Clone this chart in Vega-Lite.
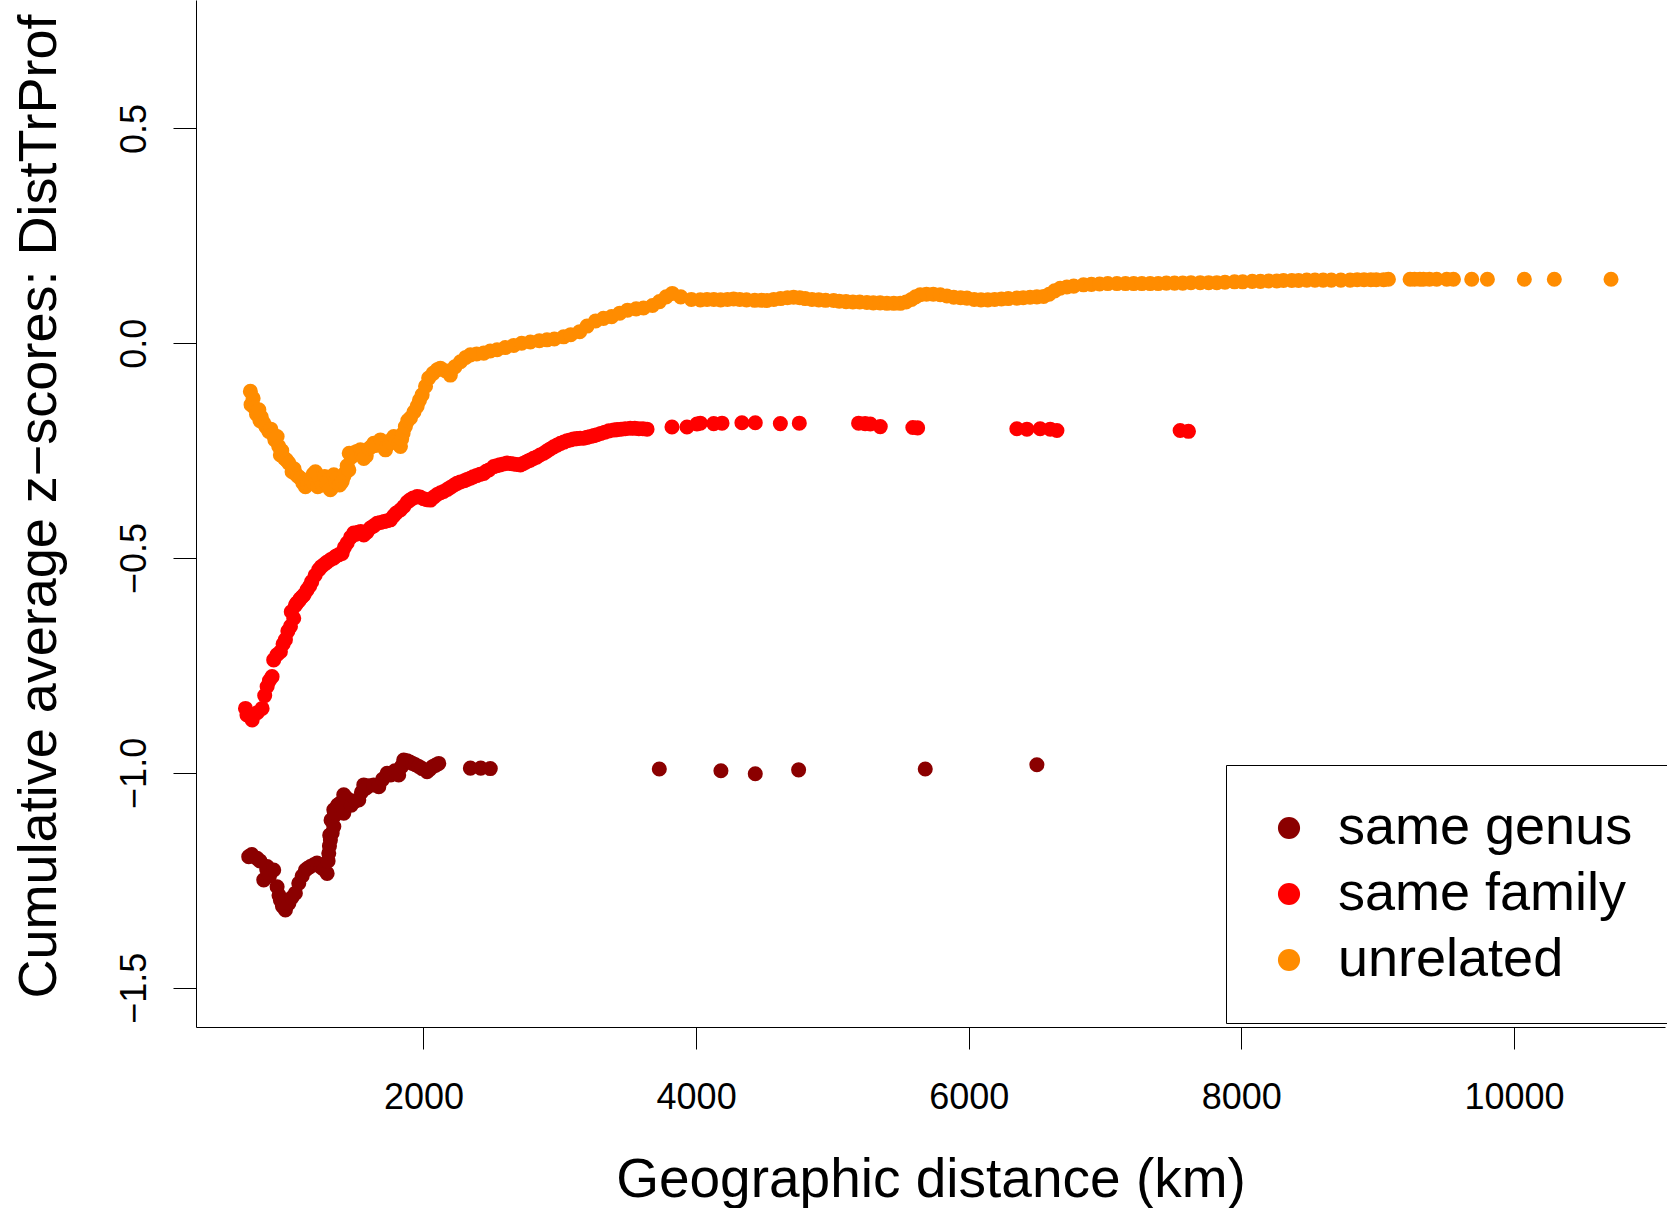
{
  "$schema": "https://vega.github.io/schema/vega-lite/v6.json",
  "width": 1469,
  "height": 1027,
  "autosize": {"type": "none"},
  "padding": {"left": 196, "top": 0, "right": 2, "bottom": 181},
  "background": "white",
  "config": {
    "view": {"stroke": null},
    "axis": {"grid": false, "domainColor": "black", "tickColor": "black", "labelColor": "black", "titleColor": "black", "domainWidth": 1, "tickWidth": 1, "labelFont": "Liberation Sans", "titleFont": "Liberation Sans", "titleFontWeight": "normal"}
  },
  "datasets": {
    "pts": [
      {"group":"unrelated","distance":730,"z":-0.112},{"group":"unrelated","distance":735,"z":-0.143},{"group":"unrelated","distance":750,"z":-0.128},{"group":"unrelated","distance":760,"z":-0.150},{"group":"unrelated","distance":775,"z":-0.165},{"group":"unrelated","distance":792,"z":-0.155},{"group":"unrelated","distance":800,"z":-0.180},{"group":"unrelated","distance":810,"z":-0.172},{"group":"unrelated","distance":828,"z":-0.186},{"group":"unrelated","distance":845,"z":-0.195},{"group":"unrelated","distance":865,"z":-0.205},{"group":"unrelated","distance":880,"z":-0.200},{"group":"unrelated","distance":895,"z":-0.212},{"group":"unrelated","distance":910,"z":-0.225},{"group":"unrelated","distance":926,"z":-0.217},{"group":"unrelated","distance":938,"z":-0.240},{"group":"unrelated","distance":950,"z":-0.260},{"group":"unrelated","distance":960,"z":-0.250},{"group":"unrelated","distance":980,"z":-0.268},{"group":"unrelated","distance":995,"z":-0.272},{"group":"unrelated","distance":1012,"z":-0.279},{"group":"unrelated","distance":1036,"z":-0.299},{"group":"unrelated","distance":1050,"z":-0.292},{"group":"unrelated","distance":1065,"z":-0.305},{"group":"unrelated","distance":1080,"z":-0.310},{"group":"unrelated","distance":1097,"z":-0.314},{"group":"unrelated","distance":1115,"z":-0.325},{"group":"unrelated","distance":1134,"z":-0.334},{"group":"unrelated","distance":1150,"z":-0.325},{"group":"unrelated","distance":1165,"z":-0.320},{"group":"unrelated","distance":1180,"z":-0.318},{"group":"unrelated","distance":1190,"z":-0.305},{"group":"unrelated","distance":1207,"z":-0.299},{"group":"unrelated","distance":1224,"z":-0.334},{"group":"unrelated","distance":1240,"z":-0.315},{"group":"unrelated","distance":1260,"z":-0.330},{"group":"unrelated","distance":1275,"z":-0.310},{"group":"unrelated","distance":1290,"z":-0.325},{"group":"unrelated","distance":1300,"z":-0.320},{"group":"unrelated","distance":1317,"z":-0.341},{"group":"unrelated","distance":1330,"z":-0.335},{"group":"unrelated","distance":1342,"z":-0.306},{"group":"unrelated","distance":1355,"z":-0.322},{"group":"unrelated","distance":1370,"z":-0.315},{"group":"unrelated","distance":1385,"z":-0.330},{"group":"unrelated","distance":1403,"z":-0.322},{"group":"unrelated","distance":1415,"z":-0.310},{"group":"unrelated","distance":1430,"z":-0.300},{"group":"unrelated","distance":1440,"z":-0.285},{"group":"unrelated","distance":1452,"z":-0.295},{"group":"unrelated","distance":1455,"z":-0.256},{"group":"unrelated","distance":1470,"z":-0.265},{"group":"unrelated","distance":1490,"z":-0.255},{"group":"unrelated","distance":1510,"z":-0.252},{"group":"unrelated","distance":1537,"z":-0.248},{"group":"unrelated","distance":1550,"z":-0.258},{"group":"unrelated","distance":1562,"z":-0.268},{"group":"unrelated","distance":1580,"z":-0.262},{"group":"unrelated","distance":1600,"z":-0.245},{"group":"unrelated","distance":1620,"z":-0.240},{"group":"unrelated","distance":1635,"z":-0.233},{"group":"unrelated","distance":1650,"z":-0.238},{"group":"unrelated","distance":1684,"z":-0.225},{"group":"unrelated","distance":1700,"z":-0.235},{"group":"unrelated","distance":1721,"z":-0.248},{"group":"unrelated","distance":1735,"z":-0.238},{"group":"unrelated","distance":1750,"z":-0.230},{"group":"unrelated","distance":1765,"z":-0.225},{"group":"unrelated","distance":1782,"z":-0.217},{"group":"unrelated","distance":1800,"z":-0.228},{"group":"unrelated","distance":1815,"z":-0.235},{"group":"unrelated","distance":1831,"z":-0.240},{"group":"unrelated","distance":1840,"z":-0.222},{"group":"unrelated","distance":1850,"z":-0.210},{"group":"unrelated","distance":1867,"z":-0.194},{"group":"unrelated","distance":1885,"z":-0.180},{"group":"unrelated","distance":1904,"z":-0.174},{"group":"unrelated","distance":1930,"z":-0.160},{"group":"unrelated","distance":1953,"z":-0.147},{"group":"unrelated","distance":1970,"z":-0.133},{"group":"unrelated","distance":1990,"z":-0.120},{"group":"unrelated","distance":2015,"z":-0.100},{"group":"unrelated","distance":2038,"z":-0.081},{"group":"unrelated","distance":2070,"z":-0.070},{"group":"unrelated","distance":2100,"z":-0.062},{"group":"unrelated","distance":2124,"z":-0.058},{"group":"unrelated","distance":2160,"z":-0.064},{"group":"unrelated","distance":2197,"z":-0.074},{"group":"unrelated","distance":2230,"z":-0.055},{"group":"unrelated","distance":2271,"z":-0.043},{"group":"unrelated","distance":2310,"z":-0.033},{"group":"unrelated","distance":2344,"z":-0.027},{"group":"unrelated","distance":2390,"z":-0.025},{"group":"unrelated","distance":2442,"z":-0.023},{"group":"unrelated","distance":2490,"z":-0.018},{"group":"unrelated","distance":2540,"z":-0.015},{"group":"unrelated","distance":2600,"z":-0.010},{"group":"unrelated","distance":2662,"z":-0.005},{"group":"unrelated","distance":2720,"z":0.000},{"group":"unrelated","distance":2784,"z":0.003},{"group":"unrelated","distance":2850,"z":0.006},{"group":"unrelated","distance":2906,"z":0.008},{"group":"unrelated","distance":2960,"z":0.010},{"group":"unrelated","distance":3028,"z":0.015},{"group":"unrelated","distance":3080,"z":0.020},{"group":"unrelated","distance":3146,"z":0.027},{"group":"unrelated","distance":3200,"z":0.040},{"group":"unrelated","distance":3263,"z":0.052},{"group":"unrelated","distance":3320,"z":0.058},{"group":"unrelated","distance":3380,"z":0.062},{"group":"unrelated","distance":3440,"z":0.070},{"group":"unrelated","distance":3497,"z":0.077},{"group":"unrelated","distance":3560,"z":0.080},{"group":"unrelated","distance":3614,"z":0.082},{"group":"unrelated","distance":3680,"z":0.088},{"group":"unrelated","distance":3731,"z":0.097},{"group":"unrelated","distance":3780,"z":0.108},{"group":"unrelated","distance":3825,"z":0.116},{"group":"unrelated","distance":3887,"z":0.108},{"group":"unrelated","distance":3965,"z":0.102},
      {"group":"unrelated","distance":4031,"z":0.101},{"group":"unrelated","distance":4080,"z":0.102},{"group":"unrelated","distance":4130,"z":0.102},{"group":"unrelated","distance":4180,"z":0.101},{"group":"unrelated","distance":4230,"z":0.102},{"group":"unrelated","distance":4275,"z":0.103},{"group":"unrelated","distance":4320,"z":0.102},{"group":"unrelated","distance":4370,"z":0.101},{"group":"unrelated","distance":4430,"z":0.100},{"group":"unrelated","distance":4480,"z":0.100},{"group":"unrelated","distance":4520,"z":0.0995},{"group":"unrelated","distance":4570,"z":0.102},{"group":"unrelated","distance":4620,"z":0.104},{"group":"unrelated","distance":4670,"z":0.106},{"group":"unrelated","distance":4715,"z":0.107},{"group":"unrelated","distance":4760,"z":0.106},{"group":"unrelated","distance":4800,"z":0.104},{"group":"unrelated","distance":4850,"z":0.102},{"group":"unrelated","distance":4900,"z":0.101},{"group":"unrelated","distance":4950,"z":0.100},{"group":"unrelated","distance":5009,"z":0.0995},{"group":"unrelated","distance":5050,"z":0.098},{"group":"unrelated","distance":5100,"z":0.097},{"group":"unrelated","distance":5150,"z":0.096},{"group":"unrelated","distance":5200,"z":0.096},{"group":"unrelated","distance":5253,"z":0.095},{"group":"unrelated","distance":5300,"z":0.094},{"group":"unrelated","distance":5350,"z":0.094},{"group":"unrelated","distance":5400,"z":0.093},{"group":"unrelated","distance":5450,"z":0.093},{"group":"unrelated","distance":5498,"z":0.093},{"group":"unrelated","distance":5540,"z":0.096},{"group":"unrelated","distance":5580,"z":0.102},{"group":"unrelated","distance":5610,"z":0.108},{"group":"unrelated","distance":5644,"z":0.113},{"group":"unrelated","distance":5690,"z":0.114},{"group":"unrelated","distance":5740,"z":0.114},{"group":"unrelated","distance":5791,"z":0.113},{"group":"unrelated","distance":5840,"z":0.110},{"group":"unrelated","distance":5890,"z":0.107},{"group":"unrelated","distance":5940,"z":0.106},{"group":"unrelated","distance":5987,"z":0.105},{"group":"unrelated","distance":6040,"z":0.102},{"group":"unrelated","distance":6090,"z":0.101},{"group":"unrelated","distance":6140,"z":0.101},{"group":"unrelated","distance":6190,"z":0.102},{"group":"unrelated","distance":6240,"z":0.103},{"group":"unrelated","distance":6290,"z":0.104},{"group":"unrelated","distance":6353,"z":0.105},{"group":"unrelated","distance":6400,"z":0.106},{"group":"unrelated","distance":6450,"z":0.107},{"group":"unrelated","distance":6500,"z":0.108},{"group":"unrelated","distance":6549,"z":0.109},{"group":"unrelated","distance":6590,"z":0.114},{"group":"unrelated","distance":6630,"z":0.122},{"group":"unrelated","distance":6671,"z":0.128},{"group":"unrelated","distance":6720,"z":0.131},{"group":"unrelated","distance":6770,"z":0.133},{"group":"unrelated","distance":6842,"z":0.136},{"group":"unrelated","distance":6900,"z":0.137},{"group":"unrelated","distance":6960,"z":0.138},{"group":"unrelated","distance":7020,"z":0.139},{"group":"unrelated","distance":7087,"z":0.139},{"group":"unrelated","distance":7150,"z":0.139},{"group":"unrelated","distance":7210,"z":0.139},{"group":"unrelated","distance":7270,"z":0.139},{"group":"unrelated","distance":7331,"z":0.139},{"group":"unrelated","distance":7390,"z":0.139},{"group":"unrelated","distance":7450,"z":0.140},{"group":"unrelated","distance":7510,"z":0.140},{"group":"unrelated","distance":7570,"z":0.140},{"group":"unrelated","distance":7630,"z":0.141},{"group":"unrelated","distance":7698,"z":0.141},{"group":"unrelated","distance":7760,"z":0.141},{"group":"unrelated","distance":7820,"z":0.141},{"group":"unrelated","distance":7880,"z":0.142},{"group":"unrelated","distance":7950,"z":0.143},{"group":"unrelated","distance":8010,"z":0.143},{"group":"unrelated","distance":8080,"z":0.144},{"group":"unrelated","distance":8140,"z":0.144},{"group":"unrelated","distance":8200,"z":0.145},{"group":"unrelated","distance":8260,"z":0.145},{"group":"unrelated","distance":8309,"z":0.146},{"group":"unrelated","distance":8370,"z":0.146},{"group":"unrelated","distance":8420,"z":0.146},{"group":"unrelated","distance":8480,"z":0.147},{"group":"unrelated","distance":8540,"z":0.147},{"group":"unrelated","distance":8600,"z":0.147},{"group":"unrelated","distance":8660,"z":0.147},{"group":"unrelated","distance":8730,"z":0.147},{"group":"unrelated","distance":8798,"z":0.147},{"group":"unrelated","distance":8850,"z":0.148},{"group":"unrelated","distance":8900,"z":0.148},{"group":"unrelated","distance":8950,"z":0.148},{"group":"unrelated","distance":8990,"z":0.148},{"group":"unrelated","distance":9044,"z":0.148},{"group":"unrelated","distance":9079,"z":0.149},{"group":"unrelated","distance":9238,"z":0.149},{"group":"unrelated","distance":9270,"z":0.149},{"group":"unrelated","distance":9310,"z":0.149},{"group":"unrelated","distance":9336,"z":0.149},{"group":"unrelated","distance":9380,"z":0.149},{"group":"unrelated","distance":9433,"z":0.149},{"group":"unrelated","distance":9507,"z":0.149},{"group":"unrelated","distance":9556,"z":0.149},{"group":"unrelated","distance":9690,"z":0.149},{"group":"unrelated","distance":9805,"z":0.149},{"group":"unrelated","distance":10076,"z":0.149},{"group":"unrelated","distance":10296,"z":0.149},{"group":"unrelated","distance":10712,"z":0.149},
      {"group":"same family","distance":694,"z":-0.850},{"group":"same family","distance":705,"z":-0.865},{"group":"same family","distance":743,"z":-0.877},{"group":"same family","distance":780,"z":-0.860},{"group":"same family","distance":816,"z":-0.850},{"group":"same family","distance":835,"z":-0.820},{"group":"same family","distance":853,"z":-0.799},{"group":"same family","distance":870,"z":-0.785},{"group":"same family","distance":889,"z":-0.776},{"group":"same family","distance":901,"z":-0.737},{"group":"same family","distance":925,"z":-0.725},{"group":"same family","distance":950,"z":-0.718},{"group":"same family","distance":970,"z":-0.700},{"group":"same family","distance":987,"z":-0.690},{"group":"same family","distance":1005,"z":-0.670},{"group":"same family","distance":1024,"z":-0.659},{"group":"same family","distance":1030,"z":-0.625},{"group":"same family","distance":1048,"z":-0.640},{"group":"same family","distance":1060,"z":-0.610},{"group":"same family","distance":1070,"z":-0.605},{"group":"same family","distance":1085,"z":-0.600},{"group":"same family","distance":1095,"z":-0.595},{"group":"same family","distance":1110,"z":-0.590},{"group":"same family","distance":1125,"z":-0.585},{"group":"same family","distance":1146,"z":-0.574},{"group":"same family","distance":1165,"z":-0.565},{"group":"same family","distance":1180,"z":-0.555},{"group":"same family","distance":1205,"z":-0.540},{"group":"same family","distance":1232,"z":-0.527},{"group":"same family","distance":1250,"z":-0.520},{"group":"same family","distance":1270,"z":-0.515},{"group":"same family","distance":1290,"z":-0.510},{"group":"same family","distance":1317,"z":-0.504},{"group":"same family","distance":1340,"z":-0.500},{"group":"same family","distance":1360,"z":-0.495},{"group":"same family","distance":1380,"z":-0.492},{"group":"same family","distance":1403,"z":-0.489},{"group":"same family","distance":1420,"z":-0.475},{"group":"same family","distance":1440,"z":-0.465},{"group":"same family","distance":1465,"z":-0.452},{"group":"same family","distance":1488,"z":-0.442},{"group":"same family","distance":1500,"z":-0.445},{"group":"same family","distance":1520,"z":-0.440},{"group":"same family","distance":1540,"z":-0.438},{"group":"same family","distance":1562,"z":-0.446},{"group":"same family","distance":1585,"z":-0.440},{"group":"same family","distance":1610,"z":-0.430},{"group":"same family","distance":1635,"z":-0.425},{"group":"same family","distance":1660,"z":-0.419},{"group":"same family","distance":1685,"z":-0.417},{"group":"same family","distance":1710,"z":-0.415},{"group":"same family","distance":1735,"z":-0.413},{"group":"same family","distance":1757,"z":-0.411},{"group":"same family","distance":1780,"z":-0.402},{"group":"same family","distance":1800,"z":-0.395},{"group":"same family","distance":1830,"z":-0.388},{"group":"same family","distance":1855,"z":-0.380},{"group":"same family","distance":1880,"z":-0.370},{"group":"same family","distance":1900,"z":-0.365},{"group":"same family","distance":1925,"z":-0.360},{"group":"same family","distance":1953,"z":-0.357},{"group":"same family","distance":1975,"z":-0.358},{"group":"same family","distance":2000,"z":-0.362},{"group":"same family","distance":2025,"z":-0.364},{"group":"same family","distance":2051,"z":-0.365},{"group":"same family","distance":2075,"z":-0.358},{"group":"same family","distance":2100,"z":-0.352},{"group":"same family","distance":2125,"z":-0.348},{"group":"same family","distance":2148,"z":-0.345},{"group":"same family","distance":2175,"z":-0.340},{"group":"same family","distance":2200,"z":-0.335},{"group":"same family","distance":2225,"z":-0.330},{"group":"same family","distance":2246,"z":-0.326},{"group":"same family","distance":2270,"z":-0.323},{"group":"same family","distance":2300,"z":-0.320},{"group":"same family","distance":2320,"z":-0.317},{"group":"same family","distance":2344,"z":-0.314},{"group":"same family","distance":2365,"z":-0.311},{"group":"same family","distance":2390,"z":-0.308},{"group":"same family","distance":2415,"z":-0.305},{"group":"same family","distance":2442,"z":-0.303},{"group":"same family","distance":2460,"z":-0.298},{"group":"same family","distance":2480,"z":-0.295},{"group":"same family","distance":2515,"z":-0.287},{"group":"same family","distance":2537,"z":-0.285},{"group":"same family","distance":2560,"z":-0.283},{"group":"same family","distance":2587,"z":-0.281},{"group":"same family","distance":2613,"z":-0.279},{"group":"same family","distance":2637,"z":-0.280},{"group":"same family","distance":2660,"z":-0.281},{"group":"same family","distance":2685,"z":-0.282},{"group":"same family","distance":2711,"z":-0.283},{"group":"same family","distance":2730,"z":-0.280},{"group":"same family","distance":2750,"z":-0.277},{"group":"same family","distance":2767,"z":-0.274},{"group":"same family","distance":2784,"z":-0.272},{"group":"same family","distance":2807,"z":-0.268},{"group":"same family","distance":2830,"z":-0.265},{"group":"same family","distance":2855,"z":-0.260},{"group":"same family","distance":2882,"z":-0.256},{"group":"same family","distance":2905,"z":-0.251},{"group":"same family","distance":2930,"z":-0.246},{"group":"same family","distance":2955,"z":-0.241},{"group":"same family","distance":2980,"z":-0.237},{"group":"same family","distance":3005,"z":-0.233},{"group":"same family","distance":3030,"z":-0.230},{"group":"same family","distance":3053,"z":-0.227},{"group":"same family","distance":3077,"z":-0.225},{"group":"same family","distance":3100,"z":-0.223},{"group":"same family","distance":3125,"z":-0.222},{"group":"same family","distance":3150,"z":-0.221},{"group":"same family","distance":3175,"z":-0.221},{"group":"same family","distance":3200,"z":-0.219},{"group":"same family","distance":3225,"z":-0.217},{"group":"same family","distance":3250,"z":-0.215},{"group":"same family","distance":3273,"z":-0.213},{"group":"same family","distance":3300,"z":-0.210},{"group":"same family","distance":3330,"z":-0.207},{"group":"same family","distance":3360,"z":-0.204},{"group":"same family","distance":3395,"z":-0.202},{"group":"same family","distance":3420,"z":-0.201},{"group":"same family","distance":3450,"z":-0.200},{"group":"same family","distance":3480,"z":-0.199},{"group":"same family","distance":3517,"z":-0.198},{"group":"same family","distance":3550,"z":-0.198},{"group":"same family","distance":3580,"z":-0.199},{"group":"same family","distance":3610,"z":-0.199},{"group":"same family","distance":3640,"z":-0.200},{"group":"same family","distance":3823,"z":-0.195},{"group":"same family","distance":3933,"z":-0.195},{"group":"same family","distance":4006,"z":-0.188},{"group":"same family","distance":4031,"z":-0.186},{"group":"same family","distance":4129,"z":-0.187},{"group":"same family","distance":4190,"z":-0.186},{"group":"same family","distance":4336,"z":-0.185},{"group":"same family","distance":4434,"z":-0.185},{"group":"same family","distance":4618,"z":-0.187},{"group":"same family","distance":4757,"z":-0.186},{"group":"same family","distance":5192,"z":-0.186},{"group":"same family","distance":5240,"z":-0.187},{"group":"same family","distance":5278,"z":-0.188},{"group":"same family","distance":5351,"z":-0.194},{"group":"same family","distance":5590,"z":-0.196},{"group":"same family","distance":5625,"z":-0.197},{"group":"same family","distance":6353,"z":-0.199},{"group":"same family","distance":6427,"z":-0.200},{"group":"same family","distance":6524,"z":-0.199},{"group":"same family","distance":6598,"z":-0.200},{"group":"same family","distance":6647,"z":-0.203},{"group":"same family","distance":7551,"z":-0.203},{"group":"same family","distance":7612,"z":-0.205},
      {"group":"same genus","distance":718,"z":-1.195},{"group":"same genus","distance":740,"z":-1.190},{"group":"same genus","distance":779,"z":-1.199},{"group":"same genus","distance":800,"z":-1.205},{"group":"same genus","distance":828,"z":-1.249},{"group":"same genus","distance":850,"z":-1.225},{"group":"same genus","distance":853,"z":-1.218},{"group":"same genus","distance":870,"z":-1.240},{"group":"same genus","distance":901,"z":-1.226},{"group":"same genus","distance":926,"z":-1.265},{"group":"same genus","distance":940,"z":-1.285},{"group":"same genus","distance":950,"z":-1.296},{"group":"same genus","distance":965,"z":-1.310},{"group":"same genus","distance":987,"z":-1.319},{"group":"same genus","distance":1000,"z":-1.300},{"group":"same genus","distance":1012,"z":-1.304},{"group":"same genus","distance":1035,"z":-1.290},{"group":"same genus","distance":1060,"z":-1.280},{"group":"same genus","distance":1085,"z":-1.257},{"group":"same genus","distance":1110,"z":-1.240},{"group":"same genus","distance":1134,"z":-1.226},{"group":"same genus","distance":1150,"z":-1.222},{"group":"same genus","distance":1170,"z":-1.218},{"group":"same genus","distance":1195,"z":-1.214},{"group":"same genus","distance":1219,"z":-1.210},{"group":"same genus","distance":1250,"z":-1.220},{"group":"same genus","distance":1270,"z":-1.225},{"group":"same genus","distance":1293,"z":-1.234},{"group":"same genus","distance":1300,"z":-1.205},{"group":"same genus","distance":1305,"z":-1.187},{"group":"same genus","distance":1310,"z":-1.170},{"group":"same genus","distance":1312,"z":-1.145},{"group":"same genus","distance":1317,"z":-1.156},{"group":"same genus","distance":1322,"z":-1.110},{"group":"same genus","distance":1330,"z":-1.140},{"group":"same genus","distance":1342,"z":-1.125},{"group":"same genus","distance":1345,"z":-1.100},{"group":"same genus","distance":1342,"z":-1.086},{"group":"same genus","distance":1355,"z":-1.095},{"group":"same genus","distance":1370,"z":-1.075},{"group":"same genus","distance":1390,"z":-1.070},{"group":"same genus","distance":1415,"z":-1.051},{"group":"same genus","distance":1415,"z":-1.094},{"group":"same genus","distance":1440,"z":-1.060},{"group":"same genus","distance":1470,"z":-1.075},{"group":"same genus","distance":1500,"z":-1.065},{"group":"same genus","distance":1525,"z":-1.063},{"group":"same genus","distance":1545,"z":-1.045},{"group":"same genus","distance":1562,"z":-1.028},{"group":"same genus","distance":1580,"z":-1.035},{"group":"same genus","distance":1600,"z":-1.030},{"group":"same genus","distance":1635,"z":-1.028},{"group":"same genus","distance":1672,"z":-1.032},{"group":"same genus","distance":1700,"z":-1.015},{"group":"same genus","distance":1733,"z":-1.001},{"group":"same genus","distance":1760,"z":-1.005},{"group":"same genus","distance":1790,"z":-0.995},{"group":"same genus","distance":1818,"z":-1.005},{"group":"same genus","distance":1840,"z":-0.985},{"group":"same genus","distance":1855,"z":-0.970},{"group":"same genus","distance":1880,"z":-0.972},{"group":"same genus","distance":1900,"z":-0.975},{"group":"same genus","distance":1920,"z":-0.978},{"group":"same genus","distance":1941,"z":-0.981},{"group":"same genus","distance":1965,"z":-0.985},{"group":"same genus","distance":1990,"z":-0.990},{"group":"same genus","distance":2026,"z":-0.997},{"group":"same genus","distance":2045,"z":-0.992},{"group":"same genus","distance":2070,"z":-0.985},{"group":"same genus","distance":2090,"z":-0.982},{"group":"same genus","distance":2112,"z":-0.978},{"group":"same genus","distance":2344,"z":-0.989},{"group":"same genus","distance":2420,"z":-0.989},{"group":"same genus","distance":2490,"z":-0.990},{"group":"same genus","distance":3730,"z":-0.991},{"group":"same genus","distance":4182,"z":-0.995},{"group":"same genus","distance":4434,"z":-1.002},{"group":"same genus","distance":4752,"z":-0.993},{"group":"same genus","distance":5681,"z":-0.991},{"group":"same genus","distance":6500,"z":-0.981}
    ]
  },
  "layer": [
    {
      "data": {"name": "pts"},
      "mark": {"type": "point", "filled": true, "shape": "circle", "size": 227, "opacity": 1, "strokeWidth": 0},
      "encoding": {
        "x": {"field": "distance", "type": "quantitative", "title": "Geographic distance (km)",
              "scale": {"domain": [331, 11108], "nice": false, "zero": false},
              "axis": {"values": [2000, 4000, 6000, 8000, 10000], "format": "d", "labelFontSize": 36, "tickSize": 22, "labelPadding": 59, "labelBaseline": "alphabetic", "labelAlign": "center", "titleFontSize": 55, "titleBaseline": "alphabetic", "titleY": 169, "labelOverlap": false, "labelFlush": false}},
        "y": {"field": "z", "type": "quantitative", "title": "Cumulative average z−scores: DistTrProf",
              "scale": {"domain": [-1.5915, 0.799], "nice": false, "zero": false},
              "axis": {"values": [-1.5, -1, -0.5, 0, 0.5], "format": ".1f", "labelFontSize": 36, "tickSize": 23, "labelPadding": 28, "labelAngle": 270, "labelAlign": "center", "labelBaseline": "alphabetic", "titleFontSize": 54, "titleAngle": 270, "titleAlign": "center", "titleBaseline": "alphabetic", "titleX": -141, "titleY": 506, "labelOverlap": false, "labelFlush": false}},
        "color": {"field": "group", "type": "nominal",
                  "scale": {"domain": ["same genus", "same family", "unrelated"], "range": ["#8B0000", "#FF0000", "#FF8C00"]},
                  "legend": {"title": null, "orient": "none", "legendX": 1030, "legendY": 765, "padding": 36, "fillColor": "white", "strokeColor": "black", "cornerRadius": 0, "symbolType": "circle", "symbolSize": 490, "symbolStrokeWidth": 0, "symbolOpacity": 1, "labelFontSize": 54, "labelFont": "Liberation Sans", "labelColor": "black", "labelOffset": 22, "labelLimit": 1000, "rowPadding": 12}}
      }
    },
    {
      "mark": {"type": "rule", "color": "black", "strokeWidth": 1},
      "encoding": {"y": {"datum": 0}}
    },
    {
      "mark": {"type": "rule", "color": "black", "strokeWidth": 1},
      "encoding": {"x": {"datum": 11108}}
    }
  ]
}
